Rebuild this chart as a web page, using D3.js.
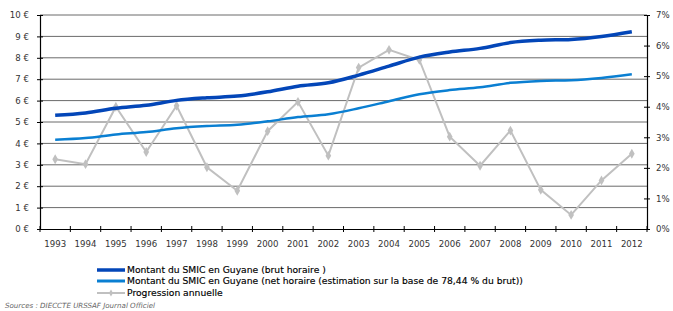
<!DOCTYPE html>
<html>
<head>
<meta charset="utf-8">
<script src="https://cdn.jsdelivr.net/npm/d3@7"></script>
<style>
  body { margin: 0; background: #fff; }
  text { font-family: "DejaVu Sans", Verdana, sans-serif; }
</style>
</head>
<body>
<div id="chart"></div>
<script>
// data
var years = [1993, 1994, 1995, 1996, 1997, 1998, 1999, 2000, 2001, 2002,
             2003, 2004, 2005, 2006, 2007, 2008, 2009, 2010, 2011, 2012];
var brut = [5.31, 5.42, 5.64, 5.78, 6.01, 6.13, 6.21, 6.41, 6.67, 6.83,
            7.19, 7.61, 8.03, 8.27, 8.44, 8.71, 8.82, 8.86, 9.00, 9.22];
var net = [4.17, 4.25, 4.42, 4.53, 4.71, 4.81, 4.87, 5.03, 5.23, 5.36,
           5.64, 5.97, 6.30, 6.49, 6.62, 6.83, 6.92, 6.95, 7.06, 7.23];
var progression = [2.28, 2.12, 4.0, 2.52, 4.03, 2.02, 1.25, 3.2, 4.16, 2.4,
                   5.28, 5.86, 5.53, 3.02, 2.07, 3.22, 1.28, 0.46, 1.59, 2.46];
var euroTicks = [0, 1, 2, 3, 4, 5, 6, 7, 8, 9, 10];
var pctTicks = [0, 1, 2, 3, 4, 5, 6, 7];
var legendLabels = [
  "Montant du SMIC en Guyane (brut horaire )",
  "Montant du SMIC en Guyane (net horaire (estimation sur la base de 78,44 % du brut))",
  "Progression annuelle"
];

var svgWidth = 673, svgHeight = 311;
var margin = { top: 15, right: 26, bottom: 82, left: 40 };
var width = svgWidth - margin.left - margin.right;
var height = svgHeight - margin.top - margin.bottom;

var svg = d3.select("#chart").append("svg")
  .attr("width", svgWidth)
  .attr("height", svgHeight);

var chartGroup = svg.append("g")
  .attr("transform", `translate(${margin.left}, ${margin.top})`);

var x = d3.scaleBand().domain(years).range([0, width]);
var yEuro = d3.scaleLinear().domain([0, 10]).range([height, 0]);
var yPct = d3.scaleLinear().domain([0, 7]).range([height, 0]);
var cx = d => x(d) + x.bandwidth() / 2;

// gridlines
chartGroup.selectAll(".grid")
  .data(euroTicks.slice(1))
  .enter().append("line")
  .attr("x1", 0).attr("x2", width)
  .attr("y1", d => yEuro(d)).attr("y2", d => yEuro(d))
  .attr("stroke", "#6b6b6b")
  .attr("stroke-width", 1);

// axes
var leftAxis = chartGroup.append("g")
  .call(d3.axisLeft(yEuro).tickValues(euroTicks).tickFormat(d => d + " €")
    .tickSizeInner(3).tickSizeOuter(0));
leftAxis.selectAll(".tick line").attr("x2", 3).attr("x1", -3);
leftAxis.selectAll("text").attr("x", -11);

var rightAxis = chartGroup.append("g")
  .attr("transform", `translate(${width}, 0)`)
  .call(d3.axisRight(yPct).tickValues(pctTicks).tickFormat(d => d + "%")
    .tickSizeInner(3).tickSizeOuter(0));
rightAxis.selectAll(".tick line").attr("x1", -3).attr("x2", 3);
rightAxis.selectAll("text").attr("x", 9);

var bottomAxis = chartGroup.append("g")
  .attr("transform", `translate(0, ${height})`)
  .call(d3.axisBottom(x).tickSize(0).tickPadding(12));
bottomAxis.selectAll(".tick line").remove();
bottomAxis.selectAll(".sep")
  .data(d3.range(years.length + 1))
  .enter().append("line")
  .attr("x1", i => i * x.step()).attr("x2", i => i * x.step())
  .attr("y1", -3).attr("y2", 3)
  .attr("stroke", "#000");

[leftAxis, rightAxis, bottomAxis].forEach(function(a) {
  a.select(".domain").attr("stroke", "#000").attr("stroke-width", 1.2);
  a.selectAll(".tick line").attr("stroke", "#000");
  a.selectAll("text").attr("font-size", 8.6).attr("fill", "#333")
    .attr("font-family", "DejaVu Sans, Verdana, sans-serif");
});

// series
var smoothLine = d3.line()
  .x((d, i) => cx(years[i]))
  .y(d => yEuro(d))
  .curve(d3.curveMonotoneX);

chartGroup.append("path")
  .datum(progression)
  .attr("fill", "none")
  .attr("stroke", "#c0c0c0")
  .attr("stroke-width", 2)
  .attr("d", d3.line().x((d, i) => cx(years[i])).y(d => yPct(d)));

chartGroup.selectAll(".diamond")
  .data(progression)
  .enter().append("path")
  .attr("transform", (d, i) => `translate(${cx(years[i])}, ${yPct(d)})`)
  .attr("d", d3.symbol().type(d3.symbolDiamond).size(28))
  .attr("fill", "#c0c0c0");

chartGroup.append("path")
  .datum(net)
  .attr("fill", "none")
  .attr("stroke", "#0a7fd2")
  .attr("stroke-width", 2.5)
  .attr("d", smoothLine);

chartGroup.append("path")
  .datum(brut)
  .attr("fill", "none")
  .attr("stroke", "#0346b8")
  .attr("stroke-width", 3.5)
  .attr("d", smoothLine);

// legend
var legendColors = ["#0346b8", "#0a7fd2", "#c0c0c0"];
var legendWidths = [3.5, 3, 2];
var legendY = [270, 281, 293];
var legend = svg.selectAll(".legend")
  .data(legendLabels)
  .enter().append("g")
  .attr("transform", (d, i) => `translate(97, ${legendY[i]})`);
legend.append("line")
  .attr("x1", 0).attr("x2", 28)
  .attr("stroke", (d, i) => legendColors[i])
  .attr("stroke-width", (d, i) => legendWidths[i]);
legend.filter((d, i) => i == 2).append("path")
  .attr("transform", "translate(14,0)")
  .attr("d", d3.symbol().type(d3.symbolDiamond).size(14))
  .attr("fill", "#c0c0c0");
legend.append("text")
  .attr("x", 30).attr("dy", "0.35em")
  .attr("font-size", 9.2)
  .attr("fill", "#000")
  .attr("stroke", "#000")
  .attr("stroke-width", 0.15)
  .text(d => d);

svg.append("text")
  .attr("x", 5).attr("y", 308)
  .attr("font-size", 7.1)
  .attr("font-style", "italic")
  .attr("fill", "#666")
  .text("Sources : DIECCTE  URSSAF Journal Officiel");
</script>
</body>
</html>
